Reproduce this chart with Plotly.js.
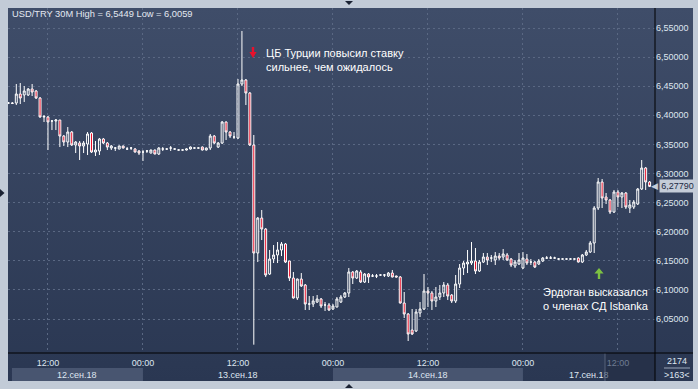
<!DOCTYPE html>
<html><head><meta charset="utf-8">
<script src="https://cdn.plot.ly/plotly-3.0.1.min.js"></script>
<style>html,body{margin:0;padding:0;background:#c2cbd7;}#chart{width:698px;height:389px;}</style>
</head><body><div id="chart"></div>
<script>
// ---------- data (USD/TRY, 30-minute candles) ----------
const startTime = '2018-09-12T07:00:00Z';
const open = [6.4211,6.4211,6.4211,6.4366,6.4349,6.4349,6.4452,6.4418,6.4297,6.3971,
6.3971,6.3902,6.3902,6.3919,6.3644,6.3541,6.3713,6.3490,6.3524,6.3473,
6.3507,6.3696,6.3369,6.3387,6.3593,6.3524,6.3438,6.3438,6.3421,6.3473,
6.3421,6.3438,6.3421,6.3387,6.3369,6.3387,6.3352,6.3404,6.3335,6.3421,
6.3421,6.3438,6.3421,6.3404,6.3404,6.3404,6.3421,6.3438,6.3438,6.3455,
6.3404,6.3438,6.3644,6.3455,6.3524,6.3885,6.3713,6.3627,6.3610,6.4538,
6.4607,6.4383,6.3490,6.1634,6.2235,6.2046,6.1273,6.1531,6.1600,6.1686,
6.1789,6.1497,6.1204,6.0861,6.1187,6.1084,6.0758,6.0758,6.0792,6.0844,
6.0741,6.0741,6.0672,6.0706,6.0792,6.0878,6.0947,6.1308,6.1204,6.1308,
6.1136,6.1273,6.1239,6.1239,6.1256,6.1256,6.1239,6.1290,6.1239,6.1222,
6.0775,6.0586,6.0311,6.0294,6.0603,6.0672,6.0981,6.0947,6.0809,6.0878,
6.0947,6.1084,6.0912,6.0809,6.1101,6.1376,6.1445,6.1462,6.1497,6.1325,
6.1479,6.1565,6.1548,6.1514,6.1582,6.1565,6.1600,6.1531,6.1411,6.1445,
6.1376,6.1531,6.1479,6.1479,6.1445,6.1497,6.1548,6.1548,6.1548,6.1531,
6.1531,6.1531,6.1531,6.1531,6.1548,6.1479,6.1600,6.1651,6.1806,6.2407,
6.2854,6.2596,6.2545,6.2338,6.2682,6.2596,6.2665,6.2407,6.2424,6.2476,
6.2734,6.3095,6.2854];
const high = [6.4228,6.4228,6.4538,6.4555,6.4503,6.4469,6.4538,6.4435,6.4314,6.4005,
6.3988,6.3919,6.3936,6.3919,6.3662,6.3799,6.3730,6.3558,6.3558,6.3558,
6.3713,6.3713,6.3558,6.3610,6.3610,6.3541,6.3490,6.3455,6.3480,6.3480,
6.3455,6.3455,6.3438,6.3404,6.3404,6.3404,6.3410,6.3410,6.3455,6.3455,
6.3430,6.3473,6.3430,6.3415,6.3415,6.3430,6.3465,6.3450,6.3450,6.3465,
6.3445,6.3679,6.3662,6.3541,6.3902,6.3895,6.3730,6.3713,6.4624,6.5449,
6.4624,6.4400,6.3662,6.2252,6.2373,6.2063,6.1686,6.1771,6.1823,6.1823,
6.1806,6.1497,6.1308,6.1195,6.1290,6.1101,6.0895,6.0895,6.0912,6.0861,
6.0792,6.0775,6.0758,6.0878,6.0912,6.0964,6.1376,6.1325,6.1342,6.1342,
6.1290,6.1290,6.1273,6.1273,6.1265,6.1273,6.1308,6.1342,6.1245,6.1239,
6.0964,6.0603,6.0672,6.0672,6.0792,6.1273,6.1050,6.0981,6.1050,6.1084,
6.1136,6.1119,6.0929,6.1256,6.1445,6.1497,6.1686,6.1823,6.1720,6.1514,
6.1634,6.1634,6.1600,6.1651,6.1634,6.1703,6.1634,6.1548,6.1514,6.1634,
6.1651,6.1617,6.1531,6.1497,6.1531,6.1565,6.1582,6.1582,6.1570,6.1548,
6.1540,6.1540,6.1540,6.1540,6.1560,6.1617,6.1686,6.1840,6.2441,6.2923,
6.2906,6.2665,6.2562,6.2717,6.2717,6.2682,6.2682,6.2545,6.2545,6.2751,
6.3232,6.3112,6.2871];
const low = [6.4194,6.4194,6.4177,6.4194,6.4229,6.4332,6.4332,6.4280,6.3960,6.3885,
6.3404,6.3747,6.3747,6.3455,6.3473,6.3455,6.3473,6.3352,6.3232,6.3352,
6.3318,6.3352,6.3301,6.3318,6.3507,6.3404,6.3404,6.3387,6.3415,6.3430,
6.3404,6.3404,6.3360,6.3318,6.3215,6.3352,6.3345,6.3330,6.3318,6.3387,
6.3410,6.3387,6.3410,6.3395,6.3395,6.3395,6.3410,6.3430,6.3430,6.3395,
6.3395,6.3404,6.3507,6.3438,6.3507,6.3576,6.3610,6.3593,6.3593,6.4503,
6.4177,6.3473,6.0059,6.1479,6.1857,6.1222,6.1256,6.1462,6.1462,6.1582,
6.1462,6.1153,6.0850,6.0827,6.1050,6.0655,6.0655,6.0706,6.0775,6.0689,
6.0638,6.0638,6.0655,6.0700,6.0775,6.0861,6.0878,6.1101,6.1187,6.1119,
6.1119,6.1119,6.1222,6.1204,6.1245,6.1222,6.1222,6.1215,6.1215,6.0765,
6.0517,6.0122,6.0225,6.0277,6.0534,6.0655,6.0706,6.0655,6.0706,6.0827,
6.0878,6.0827,6.0775,6.0775,6.1033,6.1256,6.1290,6.1428,6.1273,6.1308,
6.1462,6.1428,6.1479,6.1428,6.1514,6.1514,6.1497,6.1393,6.1376,6.1428,
6.1359,6.1428,6.1428,6.1376,6.1428,6.1479,6.1531,6.1531,6.1540,6.1520,
6.1525,6.1525,6.1525,6.1525,6.1470,6.1462,6.1582,6.1634,6.1634,6.2373,
6.2407,6.2476,6.2304,6.2321,6.2424,6.2407,6.2390,6.2321,6.2390,6.2459,
6.2717,6.2717,6.2768];
const close = [6.4211,6.4205,6.4366,6.4297,6.4418,6.4452,6.4400,6.4297,6.3971,6.3980,
6.3885,6.3902,6.3919,6.3644,6.3541,6.3713,6.3490,6.3541,6.3473,6.3524,
6.3679,6.3369,6.3404,6.3593,6.3524,6.3455,6.3473,6.3438,6.3473,6.3438,
6.3421,6.3438,6.3369,6.3352,6.3369,6.3387,6.3404,6.3335,6.3438,6.3421,
6.3421,6.3438,6.3421,6.3404,6.3404,6.3421,6.3455,6.3438,6.3438,6.3404,
6.3438,6.3644,6.3524,6.3524,6.3885,6.3713,6.3644,6.3627,6.4538,6.4607,
6.4383,6.3490,6.1634,6.2235,6.2046,6.1256,6.1531,6.1600,6.1686,6.1789,
6.1479,6.1204,6.0861,6.1187,6.1067,6.0758,6.0758,6.0809,6.0844,6.0723,
6.0741,6.0655,6.0723,6.0844,6.0878,6.0947,6.1308,6.1204,6.1325,6.1136,
6.1273,6.1222,6.1239,6.1239,6.1256,6.1256,6.1290,6.1222,6.1222,6.0775,
6.0586,6.0242,6.0242,6.0620,6.0672,6.0981,6.0947,6.0809,6.0878,6.0947,
6.1084,6.0895,6.0809,6.1101,6.1376,6.1462,6.1479,6.1497,6.1325,6.1479,
6.1565,6.1514,6.1548,6.1582,6.1548,6.1617,6.1514,6.1428,6.1479,6.1514,
6.1548,6.1462,6.1479,6.1393,6.1497,6.1548,6.1548,6.1548,6.1548,6.1531,
6.1531,6.1531,6.1531,6.1531,6.1479,6.1600,6.1651,6.1806,6.2407,6.2854,
6.2579,6.2545,6.2338,6.2682,6.2596,6.2665,6.2424,6.2459,6.2510,6.2734,
6.3095,6.2854,6.2779];

const yTicks = [6.05,6.10,6.15,6.20,6.25,6.30,6.35,6.40,6.45,6.50,6.55];
const xTickTimes = ['2018-09-12 12:00','2018-09-13 00:00','2018-09-13 12:00','2018-09-14 00:00','2018-09-14 12:00','2018-09-17 00:00','2018-09-17 12:00'];
const xTickText = ['12:00','00:00','12:00','00:00','12:00','00:00','12:00'];
const dayLabels = ['12.сен.18','13.сен.18','14.сен.18','17.сен.18'];
const symbolName = 'USD/TRY 30M';
const note1 = 'ЦБ Турции повысил ставку<br>сильнее, чем ожидалось';
const note2 = 'Эрдоган высказался<br>о членах СД Isbanka';
const barsTotal = '2174';
const barsVisible = '&gt;163&lt;';

// ---------- build the time categories (weekends skipped) ----------
const times = [];
let t = Date.parse(startTime);
while (times.length < open.length) {
  const d = new Date(t);
  const wd = d.getUTCDay();
  if (wd !== 0 && wd !== 6) times.push(d.toISOString().slice(0,16).replace('T',' '));
  t += 30*60000;
}

// ---------- geometry helpers (pixels -> paper) ----------
const L = 8, R = 655, T = 8, B = 353;
const px = x => (x - L) / (R - L);
const py = y => (B - y) / (B - T);
const P = (x, y) => px(x).toFixed(5) + ',' + py(y).toFixed(5);

const fmt = (v, n) => v.toFixed(n).replace('.', ',');
const hi = Math.max(...high), lo = Math.min(...low);
const titleText = symbolName + ' High = ' + fmt(hi, 4) + ' Low = ' + fmt(lo, 4);
const lastClose = close[close.length - 1];

const xRange = [-0.1, 163.36];

// day bands
const dayStarts = [];
times.forEach((s, i) => { if (i === 0 || s.endsWith('00:00')) dayStarts.push(i); });
const dayEdges = dayStarts.map((s, k) => {
  const a = k === 0 ? xRange[0] + 1 : s;
  const b = k + 1 < dayStarts.length ? dayStarts[k + 1] : xRange[1];
  return [a, b];
});

const gridCol = '#5a6883';
const txtCol = '#dfe6f0';
const fontFam = 'Liberation Sans, Arial, sans-serif';

const gradSvg = "<svg xmlns='http://www.w3.org/2000/svg' width='10' height='100' preserveAspectRatio='none'>" +
  "<defs><linearGradient id='g' x1='0' y1='0' x2='0' y2='1'>" +
  "<stop offset='0' stop-color='#3f4d69'/><stop offset='1' stop-color='#2a3752'/></linearGradient></defs>" +
  "<rect width='10' height='100' fill='url(#g)'/></svg>";
const gradUri = 'data:image/svg+xml;charset=utf-8,' + encodeURIComponent(gradSvg);

const shapes = [];
// light date bands
dayEdges.forEach((e, k) => {
  if (k % 2 === 0) shapes.push({type:'rect', xref:'x', yref:'paper', x0:e[0], x1:e[1], y0:py(381), y1:py(368),
    fillcolor:'#485570', line:{width:0}, layer:'below'});
});
// dark scroll overlay bottom right
shapes.push({type:'rect', xref:'paper', yref:'paper', x0:px(605), x1:px(655), y0:py(381), y1:py(353),
  fillcolor:'#263149', line:{width:0}, layer:'below'});
shapes.push({type:'line', xref:'paper', yref:'paper', x0:px(605), x1:px(605), y0:py(381), y1:py(353),
  line:{color:'#56637b', width:1}, layer:'below'});
// black frame lines
shapes.push({type:'line', xref:'paper', yref:'paper', x0:1, x1:1, y0:py(381), y1:1, line:{color:'#000', width:1}});
shapes.push({type:'line', xref:'paper', yref:'paper', x0:0, x1:px(693), y0:0, y1:0, line:{color:'#000', width:1}});
// separator in the corner box
shapes.push({type:'line', xref:'paper', yref:'paper', x0:px(664), x1:px(690), y0:py(368), y1:py(368), line:{color:'#9aa6ba', width:1}});
// red down arrow
shapes.push({type:'path', xref:'paper', yref:'paper', fillcolor:'#e8112d', line:{width:0},
  path:'M'+P(251.8,47)+' L'+P(254.2,47)+' L'+P(254.2,52)+' L'+P(256.6,52)+' L'+P(253,58)+' L'+P(249.4,52)+' L'+P(251.8,52)+' Z'});
// green up arrow
shapes.push({type:'path', xref:'paper', yref:'paper', fillcolor:'#7dc242', line:{width:0},
  path:'M'+P(597.8,279)+' L'+P(600.2,279)+' L'+P(600.2,273.5)+' L'+P(603.6,273.5)+' L'+P(599,268)+' L'+P(594.4,273.5)+' L'+P(597.8,273.5)+' Z'});
// small navigation triangles on the frame
shapes.push({type:'path', xref:'paper', yref:'paper', fillcolor:'#1a2233', line:{width:0},
  path:'M'+P(345,1)+' L'+P(353,1)+' L'+P(349,5)+' Z'});
shapes.push({type:'path', xref:'paper', yref:'paper', fillcolor:'#1a2233', line:{width:0},
  path:'M'+P(345,388)+' L'+P(353,388)+' L'+P(349,384)+' Z'});
shapes.push({type:'path', xref:'paper', yref:'paper', fillcolor:'#1a2233', line:{width:0},
  path:'M'+P(0,189)+' L'+P(0,197)+' L'+P(4.5,193)+' Z'});

const annotations = [];
annotations.push({xref:'paper', yref:'paper', x:px(10), y:py(14), xanchor:'left', yanchor:'middle',
  text:titleText, showarrow:false, font:{family:fontFam, size:9.3, color:'#e4e9f1'}});
annotations.push({xref:'paper', yref:'paper', x:px(264), y:py(60), xanchor:'left', yanchor:'middle', align:'left',
  text:note1, showarrow:false, font:{family:fontFam, size:11, color:'#ffffff'}});
annotations.push({xref:'paper', yref:'paper', x:px(541), y:py(299), xanchor:'left', yanchor:'middle', align:'left',
  text:note2, showarrow:false, font:{family:fontFam, size:11, color:'#ffffff'}});
dayEdges.forEach((e, k) => {
  let txt = dayLabels[k];
  if (k === dayEdges.length - 1) txt = txt.slice(0, -1) + '<span style="color:#7a879c">' + txt.slice(-1) + '</span>';
  annotations.push({xref:'x', yref:'paper', x:(e[0] + e[1]) / 2, y:py(374.5), xanchor:'center', yanchor:'middle',
    text:txt, showarrow:false, font:{family:fontFam, size:9, color:txtCol}});
});
annotations.push({xref:'paper', yref:'paper', x:px(677), y:py(361), xanchor:'center', yanchor:'middle',
  text:barsTotal, showarrow:false, font:{family:fontFam, size:9, color:txtCol}});
annotations.push({xref:'paper', yref:'paper', x:px(677), y:py(375), xanchor:'center', yanchor:'middle',
  text:barsVisible, showarrow:false, font:{family:fontFam, size:9, color:txtCol}});
// last price marker
annotations.push({xref:'paper', yref:'y', x:px(659), y:lastClose, xanchor:'left', yanchor:'middle',
  text:fmt(lastClose, 5), showarrow:false, bgcolor:'#c4ccd8', borderpad:1, width:33,
  font:{family:fontFam, size:9, color:'#1b2a44'}});
annotations.push({xref:'paper', yref:'y', x:px(660), y:lastClose, xanchor:'right', yanchor:'middle',
  text:'◀', showarrow:false, font:{family:'DejaVu Sans', size:9, color:'#c4ccd8'}});

const tickText = xTickText.map((s, k) => k === xTickText.length - 1 ? '<span style="color:#6f7c92">' + s + '</span>' : s);

const data = [{
  type:'candlestick', x:times, open:open, high:high, low:low, close:close,
  increasing:{line:{color:'#ffffff', width:1}, fillcolor:'rgba(0,0,0,0)'},
  decreasing:{line:{color:'#ffffff', width:1}, fillcolor:'#e8001c'},
  whiskerwidth:0, hoverinfo:'skip', showlegend:false
}];

const layout = {
  width:698, height:389,
  margin:{l:L, r:698 - R, t:T, b:389 - B, pad:0},
  paper_bgcolor:'#c2cbd7', plot_bgcolor:'rgba(0,0,0,0)',
  separators:', ',
  showlegend:false, hovermode:false,
  font:{family:fontFam, size:9, color:txtCol},
  xaxis:{type:'category', range:xRange, tickvals:xTickTimes, ticktext:tickText,
    showgrid:true, gridcolor:gridCol, griddash:'2px,3px', gridwidth:1, ticks:'',
    ticklabelstandoff:3,
    tickfont:{family:fontFam, size:9, color:txtCol}, zeroline:false, showline:false,
    rangeslider:{visible:false}, fixedrange:true, tickangle:0},
  yaxis:{side:'right', range:[5.9916, 6.5844], tickvals:yTicks, tickformat:'.5f',
    showgrid:true, gridcolor:gridCol, griddash:'2px,3px', gridwidth:1, ticks:'',
    tickfont:{family:fontFam, size:9, color:txtCol}, zeroline:false, showline:false, fixedrange:true},
  images:[{source:gradUri, xref:'paper', yref:'paper', x:0, y:1, sizex:px(693), sizey:1 - py(381),
    xanchor:'left', yanchor:'top', sizing:'stretch', layer:'below'}],
  shapes:shapes, annotations:annotations
};

Plotly.newPlot('chart', data, layout, {staticPlot:true, displayModeBar:false});
</script></body></html>
